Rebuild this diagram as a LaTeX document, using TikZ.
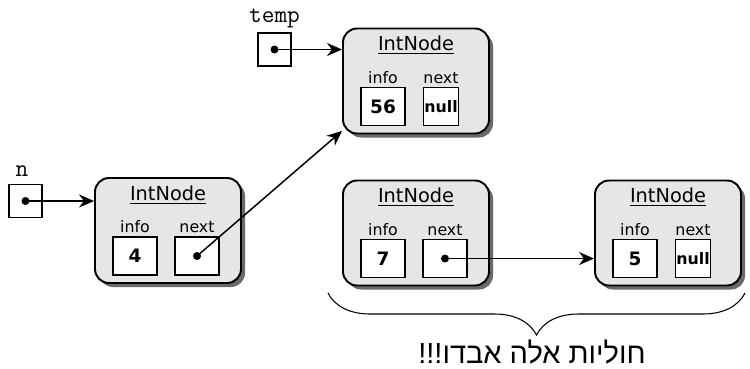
\documentclass[tikz,border=0pt]{standalone}
\usepackage{fontspec}
\setmainfont{DejaVu Sans}
\newfontfamily\hebfont[Script=Hebrew]{Liberation Sans}
\TeXXeTstate=1
\usetikzlibrary{arrows.meta,positioning,calc,shadows,decorations.pathreplacing}
\definecolor{nodegray}{HTML}{E6E6E6}
\definecolor{shadowgray}{HTML}{6A6A6A}
\tikzset{
  intnode/.style={
    draw=black,
    line width=1.1pt,
    rounded corners=2.8mm,
    fill=nodegray,
    minimum width=29.2mm,
    minimum height=21mm,
    inner sep=0pt,
    drop shadow={shadow xshift=0.8mm, shadow yshift=-0.8mm, fill=shadowgray, opacity=1}
  },
  field/.style={
    draw=black,
    line width=1pt,
    fill=white,
    minimum width=8.8mm,
    minimum height=7.6mm,
    inner sep=0pt,
    font=\bfseries\fontsize{10.5}{12}\selectfont
  },
  nullfield/.style={field, minimum width=7mm, font=\bfseries\fontsize{9}{10}\selectfont},
  ptrbox/.style={draw=black, line width=0.6pt, fill=white, minimum size=6.6mm, inner sep=0pt},
  dot/.style={circle, fill=black, inner sep=0pt, minimum size=1.6mm},
  title/.style={font=\fontsize{11}{13}\selectfont, inner sep=0pt},
  fieldname/.style={font=\fontsize{9}{10}\selectfont, inner sep=0pt},
  varname/.style={font=\ttfamily\fontsize{14}{16}\selectfont, inner sep=0pt},
  ref/.style={-{Stealth[length=3mm, width=2.6mm]}, line width=0.85pt}
}

\begin{document}
\begin{tikzpicture}[x=0.2mm, y=-0.2mm]
\useasboundingbox (0,0) rectangle (750,368);

% the list objects
\node[intnode] (top) at (416,81) {};
\node[intnode] (first) at (168,230.5) {};
\node[intnode] (mid) at (416,233) {};
\node[intnode] (last) at (668,233) {};

\node[title] at ($(top.north)+(0,18)$) {\underline{IntNode}};
\node[title] at ($(first.north)+(0,18)$) {\underline{IntNode}};
\node[title] at ($(mid.north)+(0,18)$) {\underline{IntNode}};
\node[title] at ($(last.north)+(0,18)$) {\underline{IntNode}};

% fields
\node[field] (topinfo) at ($(top.north)+(-33,79)$) {56};
\node[nullfield] (topnext) at ($(top.north)+(25,79)$) {null};
\node[field] (firstinfo) at ($(first.north)+(-33,79)$) {4};
\node[field] (firstnext) at ($(first.north)+(29,79)$) {};
\node[field] (midinfo) at ($(mid.north)+(-33,79)$) {7};
\node[field] (midnext) at ($(mid.north)+(29,79)$) {};
\node[field] (lastinfo) at ($(last.north)+(-33,79)$) {5};
\node[nullfield] (lastnext) at ($(last.north)+(25,79)$) {null};

\foreach \f in {topinfo,firstinfo,midinfo,lastinfo}
  \node[fieldname, above=0.6mm of \f] {info};
\foreach \f in {topnext,firstnext,midnext,lastnext}
  \node[fieldname, above=0.6mm of \f] {next};

% variables
\node[ptrbox] (temp) at (274.5,49.5) {};
\node[varname, above=0.8mm of temp] {temp};
\node[ptrbox] (n) at (25.5,201) {};
\node[varname, above=1.4mm of n, xshift=-0.7mm] {n};

\node[dot] (tempdot) at (temp) {};
\node[dot] (ndot) at (n) {};
\node[dot] (firstdot) at (firstnext) {};
\node[dot] (middot) at (midnext) {};

% references
\draw[ref] (tempdot.center) -- (tempdot -| top.west);
\draw[ref] (ndot.center) -- (ndot -| first.west);
\draw[ref] (firstdot.center) -- (top.214);
\draw[ref] (middot.center) -- (middot -| last.west);

% lost nodes
\coordinate (braceL) at (328,293);
\coordinate (braceR) at (745,293);
\draw[decorate, decoration={brace, mirror, amplitude=8.4mm}, line width=0.6pt] (braceL) -- (braceR);
\node[font=\hebfont\fontsize{16.5}{18}\selectfont, inner sep=0pt, anchor=base] (lost) at (532,363) {\beginR חוליות אלה אבדו!!!\endR};

\end{tikzpicture}
\end{document}
